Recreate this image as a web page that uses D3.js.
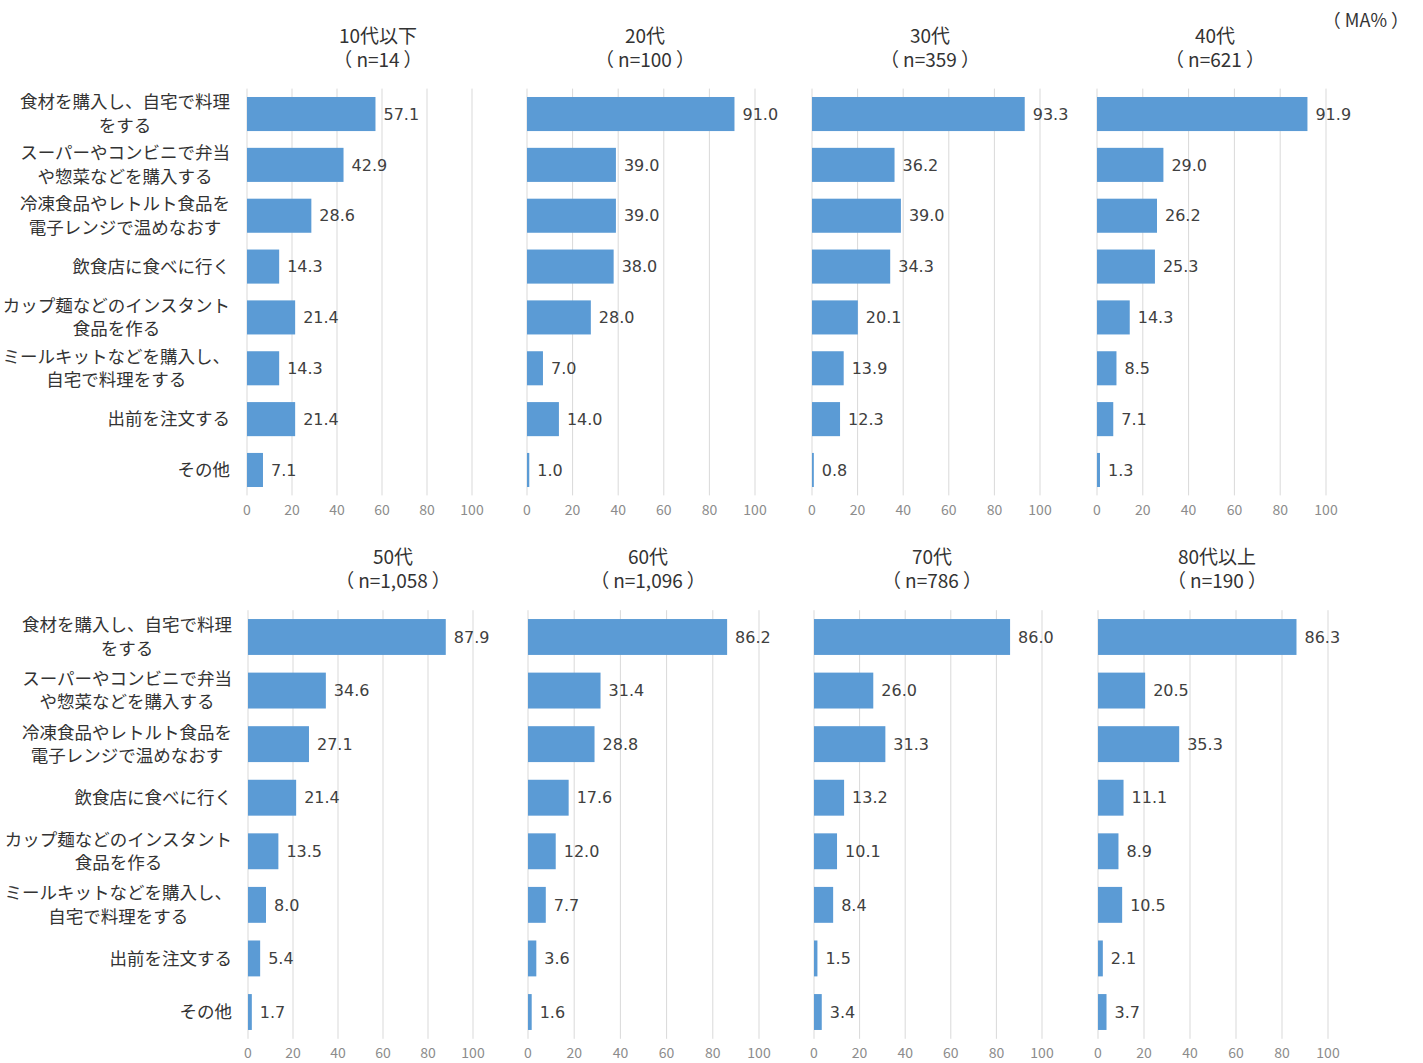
<!DOCTYPE html>
<html>
<head>
<meta charset="utf-8">
<script src="https://cdn.jsdelivr.net/npm/d3@7"></script>
<style>
  body { margin: 0; background: #fff; }
  svg text { font-family: "Noto Sans CJK JP", "Noto Sans", sans-serif; }
  svg text.val { font-family: "DejaVu Sans", sans-serif; }
</style>
</head>
<body>
<div id="chart"></div>
<script>
// categories (line breaks as in the original labels)
const categories = [
  ["食材を購入し、自宅で料理", "をする"],
  ["スーパーやコンビニで弁当", "や惣菜などを購入する"],
  ["冷凍食品やレトルト食品を", "電子レンジで温めなおす"],
  ["飲食店に食べに行く"],
  ["カップ麺などのインスタント", "食品を作る"],
  ["ミールキットなどを購入し、", "自宅で料理をする"],
  ["出前を注文する"],
  ["その他"]
];
const ageGroups = ["10代以下", "20代", "30代", "40代", "50代", "60代", "70代", "80代以上"];
const sampleSizes = ["14", "100", "359", "621", "1,058", "1,096", "786", "190"];

const teens    = [57.1, 42.9, 28.6, 14.3, 21.4, 14.3, 21.4, 7.1];
const twenties = [91.0, 39.0, 39.0, 38.0, 28.0, 7.0, 14.0, 1.0];
const thirties = [93.3, 36.2, 39.0, 34.3, 20.1, 13.9, 12.3, 0.8];
const forties  = [91.9, 29.0, 26.2, 25.3, 14.3, 8.5, 7.1, 1.3];
const fifties  = [87.9, 34.6, 27.1, 21.4, 13.5, 8.0, 5.4, 1.7];
const sixties  = [86.2, 31.4, 28.8, 17.6, 12.0, 7.7, 3.6, 1.6];
const seventies = [86.0, 26.0, 31.3, 13.2, 10.1, 8.4, 1.5, 3.4];
const eighties = [86.3, 20.5, 35.3, 11.1, 8.9, 10.5, 2.1, 3.7];
const seriesList = [teens, twenties, thirties, forties, fifties, sixties, seventies, eighties];

const xTicks = [0, 20, 40, 60, 80, 100];

// layout
const width = 1423, height = 1063;
const barColor = "#5b9bd5";
const rows = [
  {top: 88.6, bottom: 495.4, titleY: 48, tickY: 515, labelRight: 230,
   cols: [{x: 247, w: 225, tx: 378}, {x: 527, w: 228, tx: 645}, {x: 812, w: 228, tx: 930}, {x: 1097, w: 229, tx: 1215}]},
  {top: 610.2, bottom: 1038.8, titleY: 569, tickY: 1058, labelRight: 232,
   cols: [{x: 248, w: 225, tx: 393}, {x: 528, w: 231, tx: 648}, {x: 814, w: 228, tx: 932}, {x: 1098, w: 230, tx: 1217}]}
];

const svg = d3.select("#chart")
  .append("svg")
    .attr("width", width)
    .attr("height", height);

// text wrapped in full-width brackets with a little room inside
function bracketed(sel, inner, gap) {
  sel.append("tspan").text("（");
  sel.append("tspan").attr("dx", gap).text(inner);
  sel.append("tspan").attr("dx", gap).text("）");
}

const ma = svg.append("text")
  .attr("x", 1409).attr("y", 27)
  .attr("text-anchor", "end")
  .attr("font-size", 18)
  .attr("fill", "#333");
bracketed(ma, "MA%", 4);

seriesList.forEach((vals, i) => {
  const row = rows[Math.floor(i / 4)];
  const col = row.cols[i % 4];

  const x = d3.scaleLinear().domain([0, 100]).range([col.x, col.x + col.w]);
  const y = d3.scaleBand()
    .domain(d3.range(categories.length))
    .range([row.top, row.bottom])
    .paddingInner(0.33)
    .paddingOuter(0.165);

  const g = svg.append("g");

  // gridlines
  g.selectAll(".grid")
    .data(xTicks)
    .join("line")
      .attr("x1", d => x(d)).attr("x2", d => x(d))
      .attr("y1", row.top).attr("y2", row.bottom)
      .attr("stroke", "#d9d9d9")
      .attr("stroke-width", 1);

  // x axis tick labels
  g.selectAll(".tick")
    .data(xTicks)
    .join("text")
      .attr("x", d => x(d))
      .attr("y", row.tickY)
      .attr("text-anchor", "middle")
      .attr("font-size", 14)
      .attr("fill", "#8c8c8c")
      .text(d => d);

  // bars
  g.selectAll("rect")
    .data(vals)
    .join("rect")
      .attr("x", x(0))
      .attr("y", (d, j) => y(j))
      .attr("width", d => x(d) - x(0))
      .attr("height", y.bandwidth())
      .attr("fill", barColor);

  // value labels
  g.selectAll(".val")
    .data(vals)
    .join("text")
      .attr("class", "val")
      .attr("x", d => x(d) + 8)
      .attr("y", (d, j) => y(j) + y.bandwidth() / 2)
      .attr("dy", "0.36em")
      .attr("font-size", 16)
      .attr("fill", "#404040")
      .text(d => d.toFixed(1));

  // title
  const title = g.append("text")
    .attr("x", col.tx)
    .attr("y", row.titleY - 12)
    .attr("text-anchor", "middle")
    .attr("font-size", 19)
    .attr("fill", "#333");
  title.append("tspan").attr("x", col.tx).attr("dy", "0.35em").text(ageGroups[i]);
  const line2 = title.append("tspan").attr("x", col.tx).attr("dy", 24.5);
  bracketed(line2, "n=" + sampleSizes[i], 4);

  // category labels only in the first column
  if (i % 4 === 0) {
    categories.forEach((lines, j) => {
      const cy = y(j) + y.bandwidth() / 2;
      const t = g.append("text")
        .attr("text-anchor", "middle")
        .attr("font-size", 17.5)
        .attr("fill", "#333");
      const spans = lines.map((ln, k) =>
        t.append("tspan")
          .attr("y", cy + (k - (lines.length - 1) / 2) * 23.5)
          .attr("dy", "0.35em")
          .text(ln));
      const blockW = d3.max(spans, s => s.node().getComputedTextLength());
      const cx = row.labelRight - blockW / 2;
      spans.forEach(s => s.attr("x", cx));
    });
  }
});
</script>
</body>
</html>
